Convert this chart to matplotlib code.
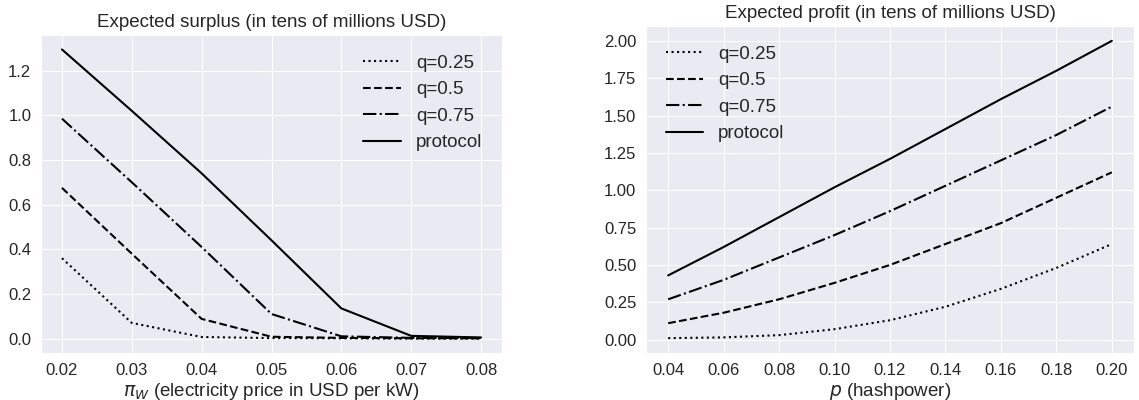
import matplotlib
matplotlib.use("Agg")
import matplotlib.pyplot as plt
import seaborn as sns
import numpy as np

sns.set_style("darkgrid")
plt.rcParams['font.family'] = ['Liberation Sans', 'DejaVu Sans']

# Left panel data: expected surplus vs electricity price
price = [0.02, 0.03, 0.04, 0.05, 0.06, 0.07, 0.08]
surplus_q025 = [0.36, 0.07, 0.007, 0.002, 0.001, 0.0, 0.0]
surplus_q05 = [0.675, 0.38, 0.088, 0.008, 0.003, 0.001, 0.001]
surplus_q075 = [0.985, 0.70, 0.41, 0.11, 0.01, 0.003, 0.002]
surplus_protocol = [1.295, 1.02, 0.74, 0.44, 0.135, 0.012, 0.005]

# Right panel data: expected profit vs hashpower
hashpower = [0.04, 0.06, 0.08, 0.10, 0.12, 0.14, 0.16, 0.18, 0.20]
profit_q025 = [0.01, 0.015, 0.03, 0.07, 0.13, 0.22, 0.34, 0.48, 0.64]
profit_q05 = [0.11, 0.18, 0.27, 0.38, 0.50, 0.64, 0.78, 0.95, 1.12]
profit_q075 = [0.27, 0.40, 0.55, 0.70, 0.86, 1.03, 1.20, 1.37, 1.56]
profit_protocol = [0.43, 0.62, 0.82, 1.02, 1.21, 1.41, 1.61, 1.80, 2.00]

labels = ['q=0.25', 'q=0.5', 'q=0.75', 'protocol']
styles = [':', '--', '-.', '-']

fig = plt.figure(figsize=(11.39, 4.0), dpi=100)
ax1 = fig.add_axes([41/1139, 1-353/400, (502-41)/1139, (353-35)/400])
ax2 = fig.add_axes([646/1139, 1-353/400, (1134-646)/1139, (353-26)/400])

tick_fs = 12
for ax, x, ys in [(ax1, price, [surplus_q025, surplus_q05, surplus_q075, surplus_protocol]),
                  (ax2, hashpower, [profit_q025, profit_q05, profit_q075, profit_protocol])]:
    for y, ls, lab in zip(ys, styles, labels):
        ax.plot(x, y, color='black', linestyle=ls, linewidth=1.5, label=lab)
    ax.tick_params(labelsize=tick_fs)

ax1.set_title('Expected surplus (in tens of millions USD)', fontsize=13.5)
ax1.set_xlabel(r'$\pi_W$ (electricity price in USD per kW)', fontsize=13.5, labelpad=2)
ax1.set_xticks(price)
ax1.set_yticks([0.0, 0.2, 0.4, 0.6, 0.8, 1.0, 1.2])
ax1.legend(loc='upper right', fontsize=13.5, frameon=False, handlelength=2.0,
           borderaxespad=0.65)

ax2.set_title('Expected profit (in tens of millions USD)', fontsize=13.5)
ax2.set_xlabel(r'$p$ (hashpower)', fontsize=13.5, labelpad=2)
ax2.set_xticks(hashpower)
ax2.set_yticks(np.arange(0, 2.01, 0.25))
ax2.yaxis.set_major_formatter(matplotlib.ticker.FormatStrFormatter('%.2f'))
ax2.xaxis.set_major_formatter(matplotlib.ticker.FormatStrFormatter('%.2f'))
ax2.legend(loc='upper left', fontsize=13.5, frameon=False, handlelength=2.0,
           borderaxespad=0.65)

fig.savefig('out.png', dpi=100)
